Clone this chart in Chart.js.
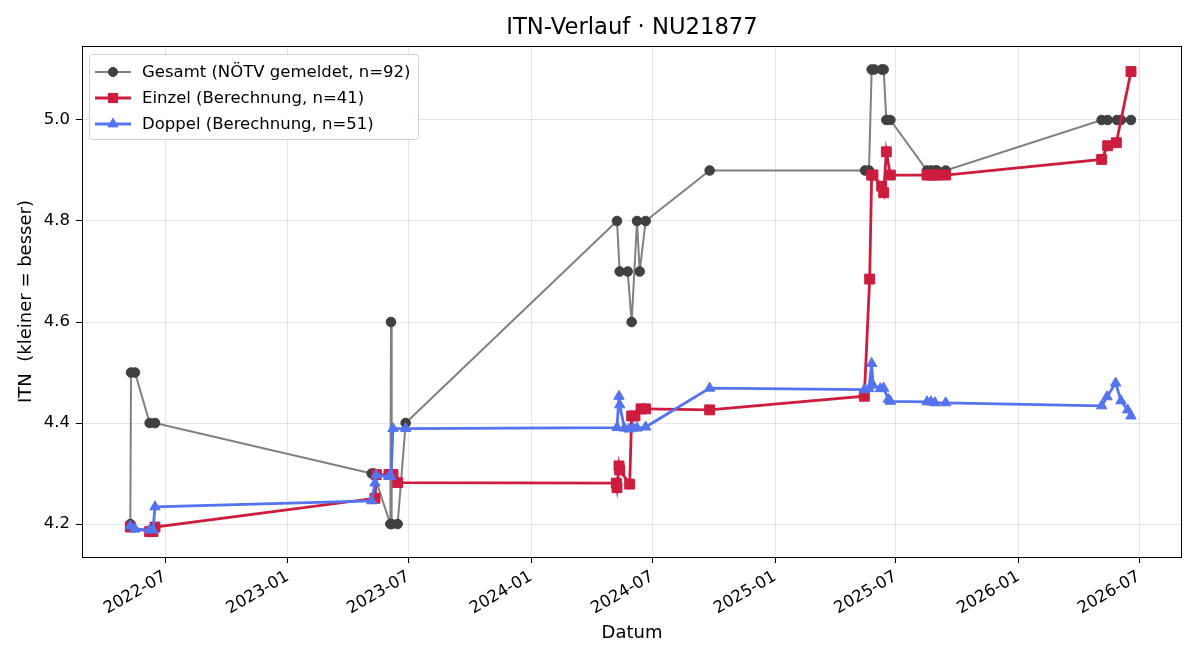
<!DOCTYPE html>
<html><head><meta charset="utf-8">
<script src="https://cdn.jsdelivr.net/npm/chart.js@4.4.1/dist/chart.umd.min.js"></script>
<style>html,body{margin:0;padding:0;background:#fff}canvas{display:block}</style>
</head><body>
<canvas id="c" width="1200" height="660"></canvas>
<script>
const chartTitle = 'ITN-Verlauf · NU21877';
const xAxisTitle = 'Datum';
const yAxisTitle = 'ITN  (kleiner = besser)';
const seriesNames = ['Gesamt (NÖTV gemeldet, n=92)', 'Einzel (Berechnung, n=41)', 'Doppel (Berechnung, n=51)'];
const xTickLabels = ['2022-07','2023-01','2023-07','2024-01','2024-07','2025-01','2025-07','2026-01','2026-07'];
const yTicks = [4.2, 4.4, 4.6, 4.8, 5.0];

const gesamtDates = ['2022-05-10','2022-05-11','2022-05-17','2022-06-08','2022-06-16','2023-05-07','2023-05-10','2023-06-04','2023-06-05','2023-06-06','2023-06-15','2023-06-27','2024-05-09','2024-05-13','2024-05-25','2024-05-31','2024-06-08','2024-06-12','2024-06-21','2024-09-25','2025-05-16','2025-05-22','2025-05-26','2025-05-30','2025-06-10','2025-06-13','2025-06-17','2025-06-23','2025-08-17','2025-08-23','2025-08-29','2025-09-01','2025-09-14','2026-05-06','2026-05-15','2026-05-29','2026-06-04','2026-06-19'];
const gesamtValues = [4.2,4.5,4.5,4.4,4.4,4.3,4.3,4.2,4.6,4.2,4.2,4.4,4.8,4.7,4.7,4.6,4.8,4.7,4.8,4.9,4.9,4.9,5.1,5.1,5.1,5.1,5.0,5.0,4.9,4.9,4.9,4.9,4.9,5.0,5.0,5.0,5.0,5.0];

const einzelDates = ['2022-05-10','2022-06-08','2022-06-13','2022-06-16','2023-05-12','2023-05-14','2023-06-02','2023-06-08','2023-06-15','2024-05-08','2024-05-09','2024-05-12','2024-05-13','2024-05-28','2024-05-31','2024-06-05','2024-06-14','2024-06-21','2024-09-25','2025-05-15','2025-05-23','2025-05-26','2025-05-28','2025-06-10','2025-06-13','2025-06-17','2025-06-23','2025-08-17','2025-08-23','2025-08-29','2025-09-01','2025-09-14','2026-05-06','2026-05-15','2026-05-28','2026-06-19'];
const einzelValues = [4.194,4.185,4.185,4.194,4.251,4.298,4.298,4.298,4.282,4.281,4.272,4.315,4.307,4.279,4.414,4.414,4.428,4.428,4.426,4.453,4.685,4.891,4.891,4.869,4.856,4.937,4.891,4.891,4.891,4.891,4.891,4.891,4.922,4.949,4.955,5.096];

const doppelDates = ['2022-05-10','2022-05-17','2022-06-08','2022-06-13','2022-06-16','2023-05-07','2023-05-12','2023-05-14','2023-06-02','2023-06-05','2023-06-08','2023-06-27','2024-05-09','2024-05-12','2024-05-13','2024-05-20','2024-05-27','2024-06-02','2024-06-08','2024-06-21','2024-09-25','2025-05-15','2025-05-22','2025-05-26','2025-05-28','2025-06-08','2025-06-13','2025-06-20','2025-06-23','2025-08-17','2025-08-23','2025-08-29','2025-09-14','2026-05-06','2026-05-14','2026-05-27','2026-06-04','2026-06-14','2026-06-19'];
const doppelValues = [4.196,4.19,4.188,4.188,4.234,4.246,4.281,4.297,4.294,4.294,4.389,4.389,4.391,4.453,4.436,4.39,4.388,4.39,4.39,4.392,4.469,4.466,4.468,4.518,4.475,4.468,4.469,4.447,4.443,4.442,4.442,4.44,4.44,4.434,4.452,4.479,4.444,4.426,4.414];

function dayNum(s){ const p = s.split('-').map(Number); return Date.UTC(p[0], p[1]-1, p[2] || 1) / 864e5; }
function pts(dates, vals){ return dates.map((d,i)=>({x: dayNum(d), y: vals[i]})); }

const tickPositions = xTickLabels.map(l => dayNum(l + '-01'));
const xMin = dayNum('2022-07-01') - 124.5, xMax = dayNum('2022-07-01') + 1525.5;
const yMin = 4.1347, yMax = 5.1465;

const FONT = 'DejaVu Sans';
const colors = {
  gLine: '#808080', gPt: '#404040',
  red: '#cc1d3f',
  blue: '#5473ee'
};
const TICK_SIZE = 16.5;

const decor = {
  id: 'decor',
  afterDraw(chart){
    const ctx = chart.ctx, a = chart.chartArea;
    ctx.save();
    ctx.strokeStyle = '#000'; ctx.lineWidth = 1;
    ctx.strokeRect(Math.round(a.left)+0.5, Math.round(a.top)+0.5, Math.round(a.right-a.left)-1, Math.round(a.bottom-a.top));
    ctx.fillStyle = '#000';
    ctx.textAlign = 'center'; ctx.textBaseline = 'middle';
    ctx.font = '22.7px "' + FONT + '"';
    ctx.fillText(chartTitle, (a.left+a.right)/2, 28);
    ctx.font = '18px "' + FONT + '"';
    ctx.fillText(xAxisTitle, (a.left+a.right)/2, 633);
    ctx.save(); ctx.translate(26, (a.top+a.bottom)/2); ctx.rotate(-Math.PI/2);
    ctx.fillText(yAxisTitle, 0, 0); ctx.restore();
    // legend
    const bx = 89.5, by = 54.5, bw = 329, bh = 85, r = 3;
    ctx.beginPath();
    ctx.moveTo(bx+r,by); ctx.lineTo(bx+bw-r,by); ctx.arcTo(bx+bw,by,bx+bw,by+r,r);
    ctx.lineTo(bx+bw,by+bh-r); ctx.arcTo(bx+bw,by+bh,bx+bw-r,by+bh,r);
    ctx.lineTo(bx+r,by+bh); ctx.arcTo(bx,by+bh,bx,by+bh-r,r);
    ctx.lineTo(bx,by+r); ctx.arcTo(bx,by,bx+r,by,r); ctx.closePath();
    ctx.fillStyle = 'rgba(255,255,255,0.85)'; ctx.fill();
    ctx.strokeStyle = '#d0d0d0'; ctx.lineWidth = 1; ctx.stroke();
    const rows = [72, 98, 124];
    const styles = [
      {line: colors.gLine, pt: colors.gPt, lw: 2, shape: 'circle', r: 4.5},
      {line: colors.red, pt: colors.red, lw: 2.8, shape: 'rect', r: 6.5},
      {line: colors.blue, pt: colors.blue, lw: 2.8, shape: 'triangle', r: 5.8}
    ];
    rows.forEach((y, i) => {
      const s = styles[i];
      ctx.strokeStyle = s.line; ctx.lineWidth = s.lw;
      ctx.beginPath(); ctx.moveTo(95, y); ctx.lineTo(131, y); ctx.stroke();
      ctx.fillStyle = s.pt; ctx.strokeStyle = s.pt; ctx.lineWidth = 1;
      Chart.helpers.drawPoint(ctx, {pointStyle: s.shape, radius: s.r, borderWidth: 1}, 113, y);
      ctx.fill();
      ctx.fillStyle = '#000'; ctx.textAlign = 'left'; ctx.textBaseline = 'middle';
      ctx.font = TICK_SIZE + 'px "' + FONT + '"';
      ctx.fillText(seriesNames[i], 142, y + 1);
    });
    ctx.restore();
  }
};

new Chart(document.getElementById('c'), {
  type: 'line',
  data: {
    datasets: [
      {label: seriesNames[0], data: pts(gesamtDates, gesamtValues), borderColor: colors.gLine, borderWidth: 2,
       pointStyle: 'circle', pointRadius: 4.8, pointBackgroundColor: colors.gPt, pointBorderColor: colors.gPt, pointBorderWidth: 1, order: 3, tension: 0},
      {label: seriesNames[1], data: pts(einzelDates, einzelValues), borderColor: colors.red, borderWidth: 2.8,
       pointStyle: 'rect', pointRadius: 7, pointBackgroundColor: colors.red, pointBorderColor: colors.red, pointBorderWidth: 1, order: 2, tension: 0},
      {label: seriesNames[2], data: pts(doppelDates, doppelValues), borderColor: colors.blue, borderWidth: 2.8,
       pointStyle: 'triangle', pointRadius: 6, pointBackgroundColor: colors.blue, pointBorderColor: colors.blue, pointBorderWidth: 1, order: 1, tension: 0}
    ]
  },
  options: {
    responsive: false, animation: false, devicePixelRatio: 1,
    layout: {padding: {top: 46, right: 18, left: 0, bottom: 0}},
    plugins: {legend: {display: false}, title: {display: false}, tooltip: {enabled: false}},
    scales: {
      x: {
        type: 'linear', min: xMin, max: xMax,
        afterBuildTicks: s => { s.ticks = tickPositions.map(v => ({value: v})); },
        afterFit: s => { s.height = 103; },
        ticks: {autoSkip: false, maxRotation: 30, minRotation: 30, padding: 4, color: '#000',
          font: {family: FONT, size: TICK_SIZE},
          callback: v => { const i = tickPositions.indexOf(v); return i >= 0 ? xTickLabels[i] : ''; }},
        grid: {color: 'rgba(0,0,0,0.1)', tickColor: '#000', tickLength: 6, lineWidth: 1},
        border: {display: false}
      },
      y: {
        type: 'linear', min: yMin, max: yMax,
        afterBuildTicks: s => { s.ticks = yTicks.map(v => ({value: v})); },
        afterFit: s => { s.width = 82; },
        ticks: {padding: 6, color: '#000', font: {family: FONT, size: TICK_SIZE}, callback: v => v.toFixed(1)},
        grid: {color: 'rgba(0,0,0,0.1)', tickColor: '#000', tickLength: 6, lineWidth: 1},
        border: {display: false}
      }
    }
  },
  plugins: [decor]
});
</script>
</body></html>
